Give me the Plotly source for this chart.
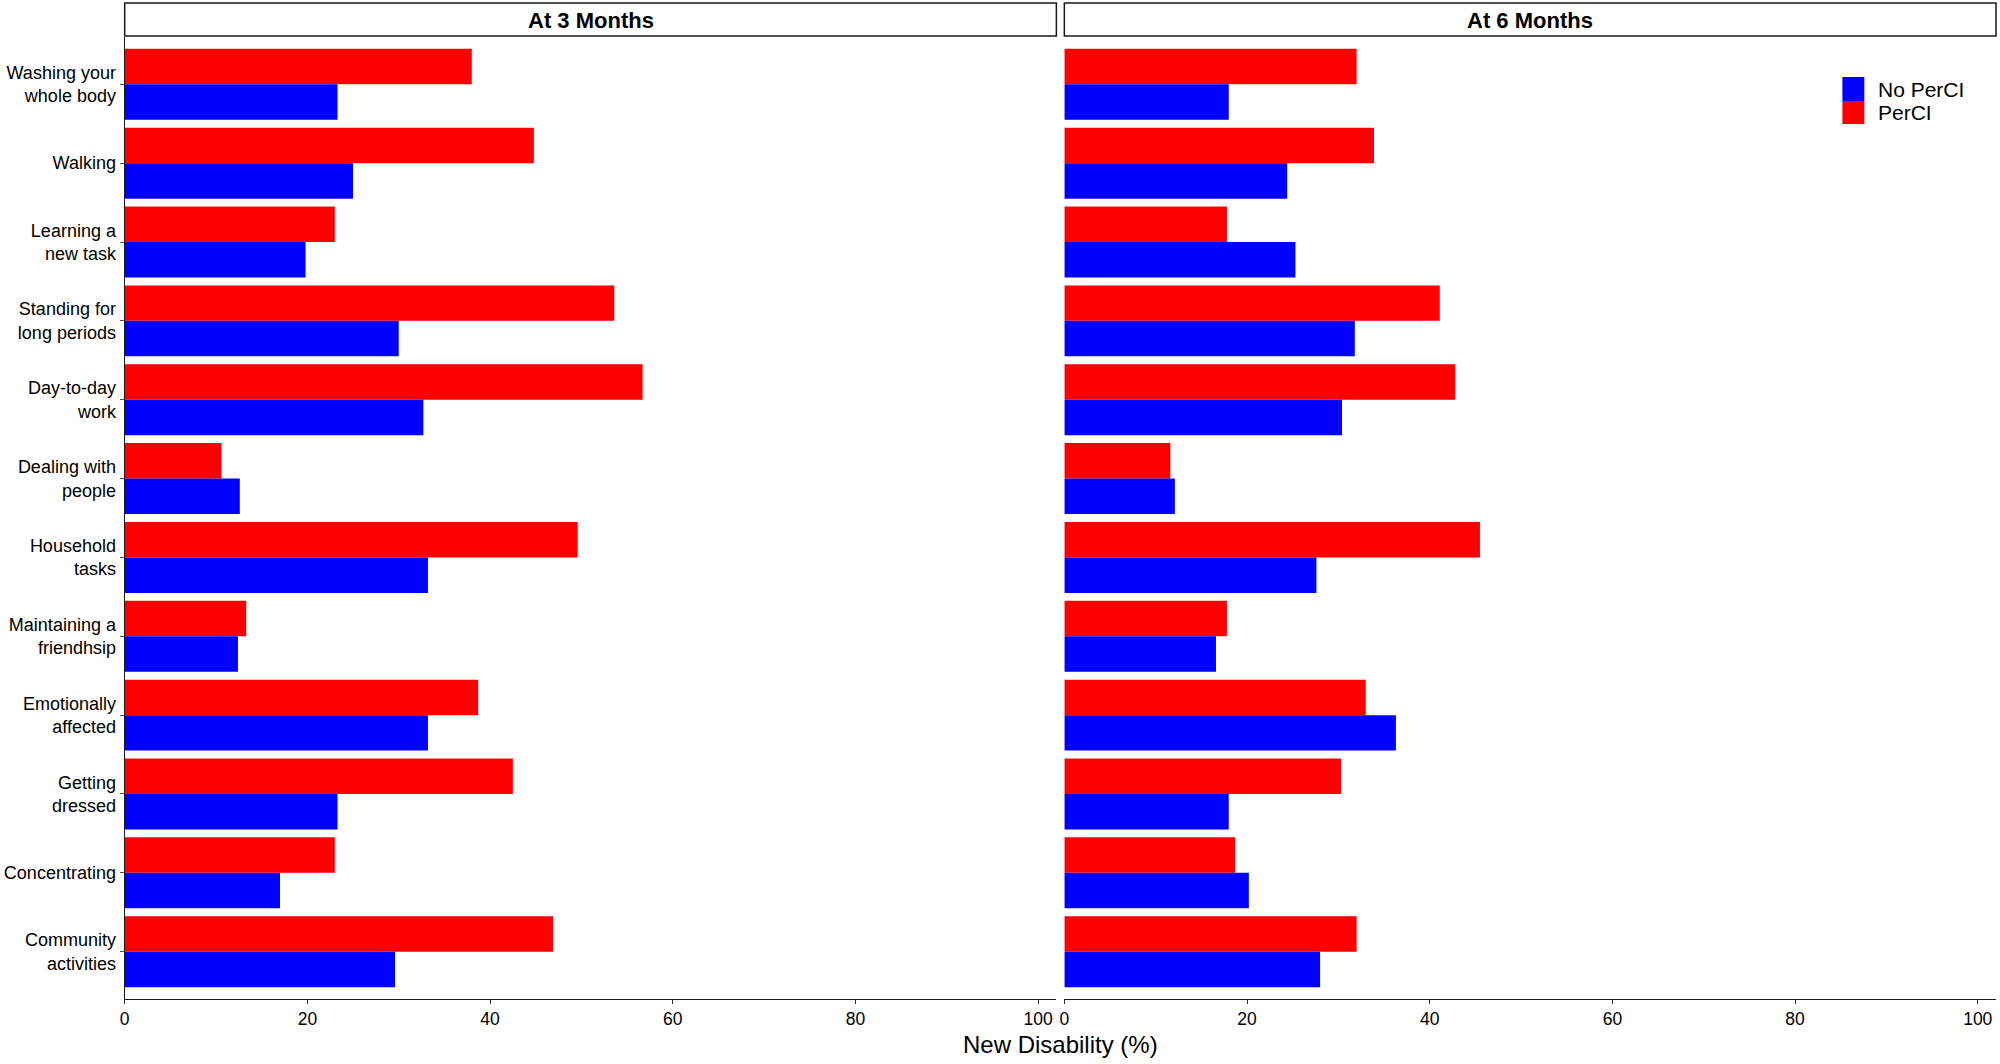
import plotly.graph_objects as go

categories = ["Washing your whole body", "Walking", "Learning a new task",
              "Standing for long periods", "Day-to-day work", "Dealing with people",
              "Household tasks", "Maintaining a friendhsip", "Emotionally affected",
              "Getting dressed", "Concentrating", "Community activities"]
tick_labels = ["Washing your<br>whole body", "Walking", "Learning a<br>new task",
               "Standing for<br>long periods", "Day-to-day<br>work", "Dealing with<br>people",
               "Household<br>tasks", "Maintaining a<br>friendhsip", "Emotionally<br>affected",
               "Getting<br>dressed", "Concentrating", "Community<br>activities"]

perci_3m = [38.0, 44.8, 23.0, 53.6, 56.7, 10.6, 49.6, 13.3, 38.7, 42.5, 23.0, 46.9]
noperci_3m = [23.3, 25.0, 19.8, 30.0, 32.7, 12.6, 33.2, 12.4, 33.2, 23.3, 17.0, 29.6]
perci_6m = [32.0, 33.9, 17.8, 41.1, 42.8, 11.6, 45.5, 17.8, 33.0, 30.3, 18.7, 32.0]
noperci_6m = [18.0, 24.4, 25.3, 31.8, 30.4, 12.1, 27.6, 16.6, 36.3, 18.0, 20.2, 28.0]

panel_titles = ["At 3 Months", "At 6 Months"]
groups = ["No PerCI", "PerCI"]
colors = {"No PerCI": "#0000FF", "PerCI": "#FF0000"}
x_ticks = [0, 20, 40, 60, 80, 100]
x_title = "New Disability (%)"

FONT = "Liberation Sans, Arial, sans-serif"

fig = go.Figure()
panels = [("x", "y", perci_3m, noperci_3m), ("x2", "y2", perci_6m, noperci_6m)]
for xa, ya, per, noper in panels:
    fig.add_trace(go.Bar(y=categories, x=per, orientation="h", name="PerCI",
                         marker=dict(color=colors["PerCI"], line=dict(width=0)),
                         xaxis=xa, yaxis=ya, showlegend=False))
    fig.add_trace(go.Bar(y=categories, x=noper, orientation="h", name="No PerCI",
                         marker=dict(color=colors["No PerCI"], line=dict(width=0)),
                         xaxis=xa, yaxis=ya, showlegend=False))

W, H = 2000, 1064
def px(v):
    return min(max(v / W, 0.0), 1.0)
def py(v):
    return min(max((H - v) / H, 0.0), 1.0)

dom1 = [px(120), px(1054)]
dom2 = [px(1062), px(1996)]
ydom = [py(999), py(37)]

xcommon = dict(range=[0, 102], tickvals=x_ticks, showline=True, linecolor="#1a1a1a",
               linewidth=1.3, ticks="outside", ticklen=4, tickcolor="#333333",
               tickwidth=1.2, showgrid=False, zeroline=False,
               tickfont=dict(family=FONT, size=17.5, color="black"), fixedrange=True)
fig.update_layout(
    width=W, height=H,
    margin=dict(l=0, r=0, t=0, b=0),
    paper_bgcolor="white", plot_bgcolor="white",
    barmode="group", bargap=0.1, bargroupgap=0,
    font=dict(family=FONT, color="black"),
    xaxis=dict(domain=dom1, anchor="y", **xcommon),
    xaxis2=dict(domain=dom2, anchor="y2", **xcommon),
    yaxis=dict(domain=ydom, anchor="x", type="category", categoryarray=categories,
               range=[11.6, -0.6], tickvals=categories, ticktext=tick_labels,
               showline=True, linecolor="#1a1a1a", linewidth=1.3,
               ticks="outside", ticklen=4, tickcolor="#555555", tickwidth=1,
               showgrid=False, zeroline=False,
               tickfont=dict(family=FONT, size=18, color="black")),
    yaxis2=dict(domain=ydom, anchor="x2", type="category", categoryarray=categories,
                range=[11.6, -0.6], showticklabels=False, showline=False,
                ticks="", showgrid=False, zeroline=False),
    showlegend=False,
)

# facet strips
shapes = []
annotations = []
for dom, title in zip([dom1, dom2], panel_titles):
    shapes.append(dict(type="rect", xref="paper", yref="paper",
                       x0=dom[0], x1=dom[1], y0=py(36), y1=py(3),
                       line=dict(color="#1a1a1a", width=1.5), fillcolor="white"))
    annotations.append(dict(text="<b>" + title + "</b>", xref="paper", yref="paper",
                            x=(dom[0] + dom[1]) / 2, y=py(20), showarrow=False,
                            xanchor="center", yanchor="middle",
                            font=dict(family=FONT, size=22, color="black")))

# x-axis title shared across panels
annotations.append(dict(text=x_title, xref="paper", yref="paper", x=px(1058), y=py(1044),
                        showarrow=False, xanchor="center", yanchor="middle",
                        font=dict(family=FONT, size=24, color="black")))

# legend (keys + labels)
legend_rows = [(groups[0], 77, 101), (groups[1], 101, 124)]
for name, top, bot in legend_rows:
    shapes.append(dict(type="rect", xref="paper", yref="paper",
                       x0=px(1842), x1=px(1864), y0=py(bot), y1=py(top),
                       line=dict(width=0), fillcolor=colors[name]))
    annotations.append(dict(text=name, xref="paper", yref="paper", x=px(1876),
                            y=py((top + bot) / 2), showarrow=False, xanchor="left",
                            yanchor="middle", font=dict(family=FONT, size=21, color="black")))

fig.update_layout(shapes=shapes, annotations=annotations)
fig.write_html(
    "out.html",
    config={"displayModeBar": False},
    post_script="document.body.style.margin='0';document.body.style.overflow='hidden';",
)
